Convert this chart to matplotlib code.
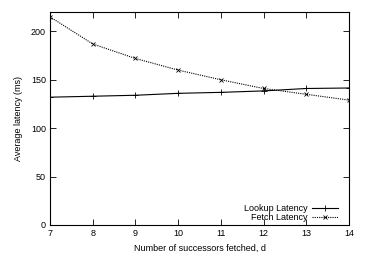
import matplotlib
matplotlib.use('Agg')
import matplotlib.pyplot as plt

# number of successors fetched
d = [7, 8, 9, 10, 11, 12, 13, 14]
lookup_latency = [132, 133, 134, 136, 137, 138.5, 141, 141.5]
fetch_latency = [215, 187, 172, 160, 150, 141, 135, 129]

plt.rcParams['font.family'] = ['Liberation Sans', 'DejaVu Sans']
plt.rcParams['font.size'] = 6.5

fig = plt.figure(figsize=(3.66, 2.62), dpi=100)
ax = fig.add_axes([50/366, 1-225/262, 299/366, 213/262])

ax.plot(d, lookup_latency, 'k-', lw=0.8, marker='+', ms=4, mew=0.6, label='Lookup Latency')
ax.plot(d, fetch_latency, 'k', ls=(0, (1, 1)), lw=0.8, marker='x', ms=3, mew=0.6, label='Fetch Latency')

ax.set_xlim(7, 14)
ax.set_ylim(0, 220)
ax.set_xticks(d)
ax.set_yticks([0, 50, 100, 150, 200])
ax.tick_params(direction='in', top=True, right=True, length=4, width=0.6, pad=3)
for s in ax.spines.values():
    s.set_linewidth(0.8)

ax.set_xlabel('Number of successors fetched, d', labelpad=4)
ax.set_ylabel('Average latency (ms)', labelpad=6)

leg = ax.legend(loc='lower right', bbox_to_anchor=(0.963, 0.015), frameon=False,
                markerfirst=False, handlelength=2.9, handletextpad=0.5,
                labelspacing=0.0, borderaxespad=0, borderpad=0)

fig.savefig('out.png', dpi=100)
